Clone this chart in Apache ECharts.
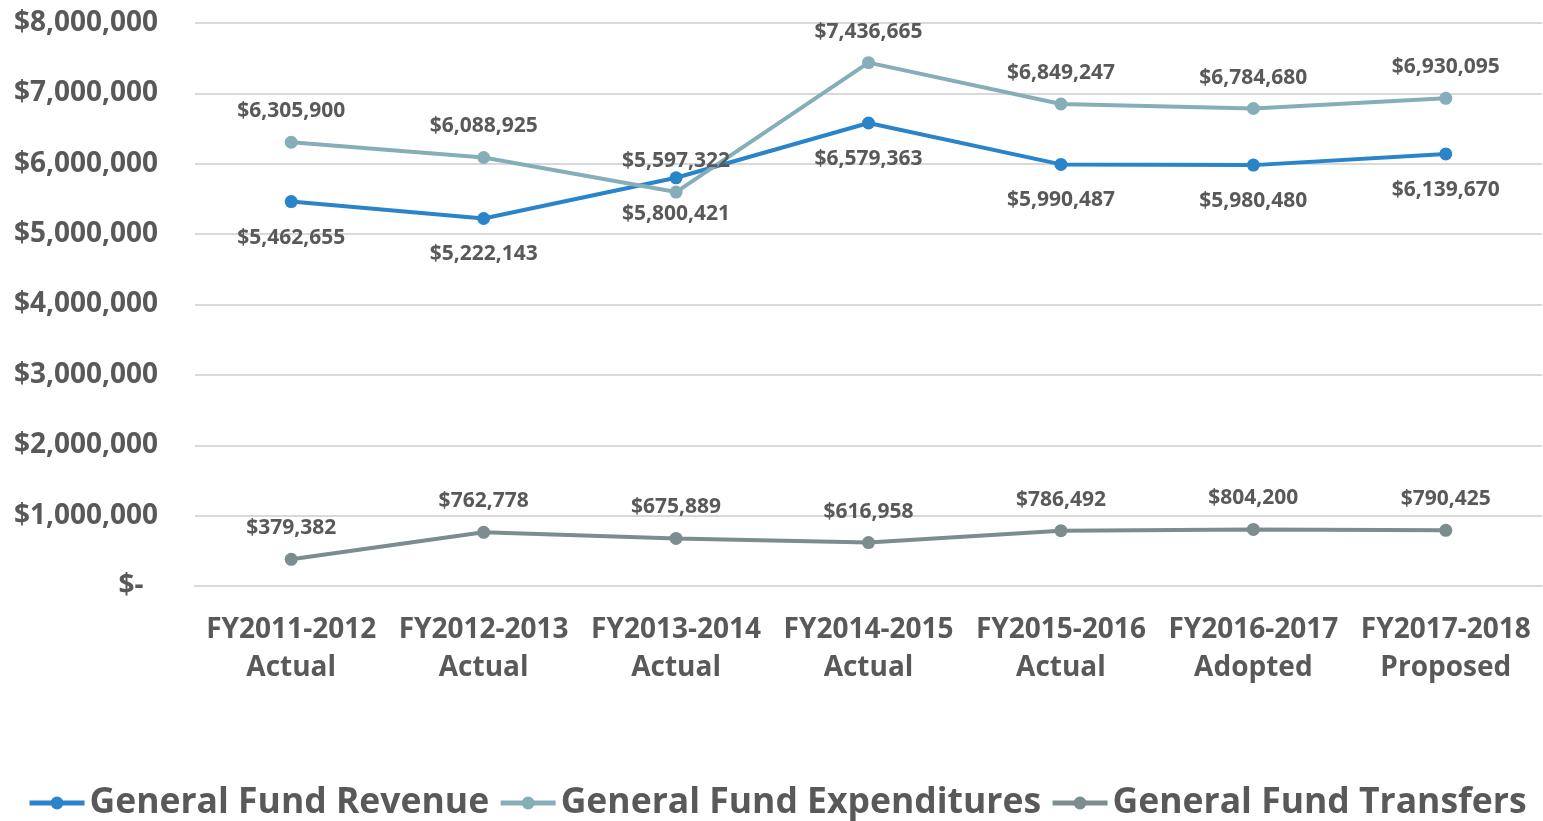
<!DOCTYPE html>
<html>
<head>
<meta charset="utf-8">
<script src="https://cdn.jsdelivr.net/npm/echarts@6/dist/echarts.min.js"></script>
<style>
  html, body { margin: 0; padding: 0; background: #fff; }
  #chart { width: 1543px; height: 821px; }
</style>
</head>
<body>
<div id="chart"></div>
<script>
const categories = [
  "FY2011-2012\nActual", "FY2012-2013\nActual", "FY2013-2014\nActual",
  "FY2014-2015\nActual", "FY2015-2016\nActual", "FY2016-2017\nAdopted",
  "FY2017-2018\nProposed"
];
const revenue = [5462655, 5222143, 5800421, 6579363, 5990487, 5980480, 6139670];
const expenditures = [6305900, 6088925, 5597322, 7436665, 6849247, 6784680, 6930095];
const transfers = [379382, 762778, 675889, 616958, 786492, 804200, 790425];

const textColor = "#595959";
const font = "Open Sans";

const money = (v) => "$" + v.toLocaleString("en-US");

const chart = echarts.init(document.getElementById("chart"));

function lineSeries(name, data, color, pos, dist) {
  return {
    name: name,
    type: "line",
    data: data,
    symbol: "circle",
    symbolSize: 13,
    lineStyle: { color: color, width: 4 },
    itemStyle: { color: color },
    label: {
      show: true,
      position: pos,
      distance: dist,
      color: textColor,
      fontFamily: font,
      fontWeight: "bold",
      fontSize: 21,
      formatter: (p) => money(p.value)
    }
  };
}

const options = {
  animation: false,
  grid: { left: 195, right: 1, top: 23, bottom: 235, containLabel: false },
  legend: {
    bottom: 0,
    left: 27,
    width: 1516,
    itemWidth: 55,
    itemHeight: 16,
    itemGap: 9,
    padding: 0,
    lineStyle: { width: 5 },
    textStyle: { color: textColor, fontFamily: font, fontWeight: "bold", fontSize: 35.5 },
    data: ["General Fund Revenue", "General Fund Expenditures", "General Fund Transfers"]
  },
  xAxis: {
    type: "category",
    data: categories,
    axisLine: { lineStyle: { color: "#D9D9D9", width: 2 } },
    axisTick: { show: false },
    axisLabel: {
      interval: 0,
      color: textColor,
      fontFamily: font,
      fontWeight: "bold",
      fontSize: 28,
      lineHeight: 38,
      margin: 25
    }
  },
  yAxis: {
    type: "value",
    min: 0,
    max: 8000000,
    interval: 1000000,
    axisLine: { show: false },
    axisTick: { show: false },
    splitLine: { lineStyle: { color: "#D9D9D9", width: 2 } },
    axisLabel: {
      color: textColor,
      fontFamily: font,
      fontWeight: "bold",
      fontSize: 28,
      margin: 37,
      formatter: (v) => (v === 0 ? "$-  " : money(v))
    }
  },
  series: [
    lineSeries("General Fund Revenue", revenue, "#2A84CA", "bottom", 19),
    lineSeries("General Fund Expenditures", expenditures, "#86AEB9", "top", 14),
    lineSeries("General Fund Transfers", transfers, "#7B8D8E", "top", 14)
  ]
};

chart.setOption(options);
</script>
</body>
</html>
